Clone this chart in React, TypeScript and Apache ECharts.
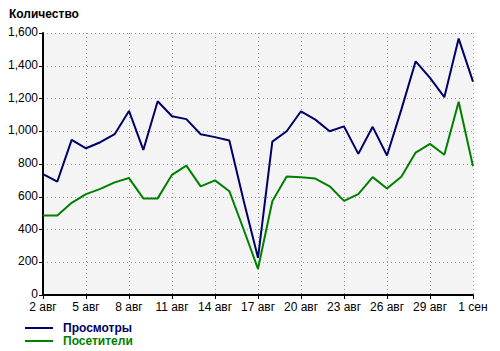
import React, { useEffect, useRef } from "react";
import * as echarts from "echarts";

const categories = [
  "2 авг", "3 авг", "4 авг", "5 авг", "6 авг", "7 авг", "8 авг", "9 авг", "10 авг", "11 авг",
  "12 авг", "13 авг", "14 авг", "15 авг", "16 авг", "17 авг", "18 авг", "19 авг", "20 авг", "21 авг",
  "22 авг", "23 авг", "24 авг", "25 авг", "26 авг", "27 авг", "28 авг", "29 авг", "30 авг", "31 авг", "1 сен",
];

const views = [
  738, 693, 947, 896, 933, 982, 1124, 886, 1183, 1092,
  1074, 982, 964, 943, 575, 227, 937, 1000, 1122, 1071,
  1000, 1030, 862, 1027, 852, 1132, 1427, 1326, 1208, 1566, 1303,
];

const visitors = [
  485, 485, 563, 616, 648, 688, 714, 590, 590, 734,
  790, 663, 700, 634, 400, 160, 573, 723, 719, 711,
  664, 575, 616, 720, 650, 722, 870, 923, 856, 1180, 786,
];

const yTicks = { min: 0, max: 1600, interval: 200 };

const NAVY = "#000066";
const GREEN = "#008000";

export default function App() {
  const ref = useRef<HTMLDivElement>(null);
  useEffect(() => {
    if (!ref.current) return;
    const chart = echarts.init(ref.current, undefined, { renderer: "svg" });
    const font = "Liberation Sans";
    const legendBase = {
      orient: "horizontal",
      left: 25,
      itemWidth: 28,
      itemHeight: 2,
      icon: "rect",
      padding: 0,
      selectedMode: false,
    };
    chart.setOption({
      animation: false,
      textStyle: { fontFamily: font },
      title: {
        text: "Количество",
        left: 4,
        top: 3,
        textStyle: { fontSize: 12, fontWeight: "bold", color: "#000", fontFamily: font },
      },
      legend: [
        {
          ...legendBase,
          top: 322,
          textStyle: { fontSize: 12, fontWeight: "bold", padding: [0, 0, 0, 5], color: NAVY, fontFamily: font },
          data: ["Просмотры"],
        },
        {
          ...legendBase,
          top: 335,
          textStyle: { fontSize: 12, fontWeight: "bold", padding: [0, 0, 0, 5], color: GREEN, fontFamily: font },
          data: ["Посетители"],
        },
      ],
      grid: {
        left: 43,
        right: 27,
        top: 33,
        bottom: 56,
        show: true,
        backgroundColor: "#f4f4f4",
        borderWidth: 0,
      },
      xAxis: {
        type: "category",
        data: categories,
        boundaryGap: false,
        axisLine: { lineStyle: { color: "#000", width: 2 } },
        axisTick: { interval: 2, length: 4, lineStyle: { color: "#000" } },
        axisLabel: { interval: 2, color: "#000", fontSize: 12, margin: 6, fontFamily: font },
        splitLine: { show: true, interval: 2, lineStyle: { color: "#999", type: [1, 3] } },
      },
      yAxis: {
        type: "value",
        min: yTicks.min,
        max: yTicks.max,
        interval: yTicks.interval,
        axisLine: { show: true, lineStyle: { color: "#000", width: 2 } },
        axisTick: { show: true, length: 4, lineStyle: { color: "#000" } },
        axisLabel: {
          color: "#000",
          fontSize: 12,
          margin: 5,
          fontFamily: font,
          verticalAlign: "bottom",
          lineHeight: 12,
          padding: [0, 0, -5, 0],
          formatter: (v: number) => v.toString().replace(/\B(?=(\d{3})+(?!\d))/g, ","),
        },
        splitLine: { show: true, lineStyle: { color: "#999", type: [1, 3] } },
      },
      series: [
        {
          name: "Просмотры",
          type: "line",
          data: views,
          showSymbol: false,
          symbol: "none",
          lineStyle: { color: NAVY, width: 2 },
          itemStyle: { color: NAVY },
        },
        {
          name: "Посетители",
          type: "line",
          data: visitors,
          showSymbol: false,
          symbol: "none",
          lineStyle: { color: GREEN, width: 2 },
          itemStyle: { color: GREEN },
        },
      ],
    });
    return () => chart.dispose();
  }, []);
  return <div ref={ref} style={{ width: 500, height: 351, position: "absolute", left: 0, top: 0 }} />;
}
